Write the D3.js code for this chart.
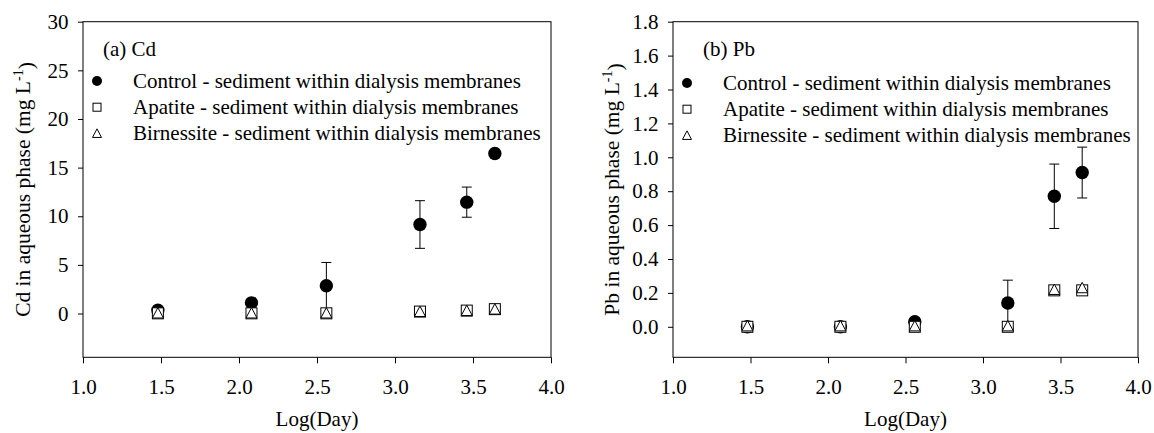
<!DOCTYPE html>
<html>
<head>
<meta charset="utf-8">
<script src="https://cdn.jsdelivr.net/npm/d3@7"></script>
<style>
body { margin: 0; background: #fff; }
text { font-family: "Liberation Serif", "Times New Roman", serif; fill: #000; }
</style>
</head>
<body>
<div id="canvas"></div>
<script>
// ----------------------------------------------------------
// DATA -----------------------------------------------------
// ----------------------------------------------------------

var log_day = [1.48, 2.08, 2.56, 3.16, 3.46, 3.64];

// (a) Cd, mg L-1
var cd_control = [0.35, 1.1, 2.85, 9.15, 11.45, 16.45];
var cd_control_err = [0.1, 0.2, 2.4, 2.45, 1.55, 0.2];
var cd_apatite = [0.02, 0.02, 0.02, 0.2, 0.3, 0.45];
var cd_birnessite = [0.05, 0.05, 0.05, 0.2, 0.3, 0.45];

// (b) Pb, mg L-1
var pb_control = [0.0, 0.0, 0.03, 0.14, 0.77, 0.91];
var pb_control_err = [0.0, 0.0, 0.005, 0.135, 0.19, 0.15];
var pb_apatite = [0.0, 0.0, 0.0, 0.0, 0.215, 0.215];
var pb_birnessite = [0.005, 0.005, 0.005, 0.005, 0.22, 0.23];

var tick_x = [1.0, 1.5, 2.0, 2.5, 3.0, 3.5, 4.0];
var tick_y_cd = [0, 5, 10, 15, 20, 25, 30];
var tick_y_pb = [0.0, 0.2, 0.4, 0.6, 0.8, 1.0, 1.2, 1.4, 1.6, 1.8];

var legend_terms = [
"Control - sediment within dialysis membranes",
"Apatite - sediment within dialysis membranes",
"Birnessite - sediment within dialysis membranes"
];


// ----------------------------------------------------------
// STRUCTURE ------------------------------------------------
// ----------------------------------------------------------

var font_size = "21px";

var container = d3.select("#canvas").append("svg")
.attr("width", 1154)
.attr("height", 433)
.style("background-color", "#fff");

var panels = [
{
title: "(a) Cd",
element: "Cd",
x_range: [83, 551],
y_domain: [-4.5, 30],
y_ticks: tick_y_cd,
y_format: d3.format("d"),
control: cd_control,
control_err: cd_control_err,
apatite: cd_apatite,
birnessite: cd_birnessite,
title_x: 103,
legend_sym_x: 97,
legend_text_x: 133,
legend_y: 81,
y_title_x: 22
},
{
title: "(b) Pb",
element: "Pb",
x_range: [673, 1138],
y_domain: [-0.18, 1.8],
y_ticks: tick_y_pb,
y_format: d3.format(".1f"),
control: pb_control,
control_err: pb_control_err,
apatite: pb_apatite,
birnessite: pb_birnessite,
title_x: 703,
legend_sym_x: 687,
legend_text_x: 723,
legend_y: 83,
y_title_x: 611
}
];

var top_px = 21.7;
var bottom_px = 357.3;

// ----------------------------------------------------------
// GFX ------------------------------------------------------
// ----------------------------------------------------------

function draw_square(g, cx, cy, s) {
g.append("rect")
.attr("x", cx - s / 2)
.attr("y", cy - s / 2)
.attr("width", s)
.attr("height", s)
.style("fill", "#fff")
.style("stroke", "#000")
.style("stroke-width", 1);
}

function draw_triangle(g, cx, cy, s) {
var h = s * 0.9;
g.append("path")
.attr("d", `M${cx},${cy - h / 2 - 0.5}L${cx + s / 2},${cy + h / 2}L${cx - s / 2},${cy + h / 2}Z`)
.style("fill", "#fff")
.style("stroke", "#000")
.style("stroke-width", 1);
}

panels.forEach(function (p) {

var g = container.append("g").attr("class", "panel");

// scales
var xScale = d3.scaleLinear().domain([1, 4]).range(p.x_range);
var yScale = d3.scaleLinear().domain(p.y_domain).range([bottom_px, top_px]);

// frame
g.append("rect")
.attr("x", p.x_range[0])
.attr("y", top_px)
.attr("width", p.x_range[1] - p.x_range[0])
.attr("height", bottom_px - top_px)
.style("fill", "none")
.style("stroke", "#000")
.style("stroke-width", 1);

// x axis
var x_axis = g.append("g")
.attr("transform", `translate(0, ${bottom_px})`)
.call(d3.axisBottom(xScale).tickValues(tick_x).tickFormat(d3.format(".1f")).tickSize(6).tickPadding(15.5).tickSizeOuter(0));
x_axis.select(".domain").remove();
x_axis.selectAll("text").style("font-size", font_size).style("font-family", "Liberation Serif");

// y axis
var y_axis = g.append("g")
.attr("transform", `translate(${p.x_range[0]}, 0)`)
.call(d3.axisLeft(yScale).tickValues(p.y_ticks).tickFormat(p.y_format).tickSize(5).tickPadding(9.5).tickSizeOuter(0));
y_axis.select(".domain").remove();
y_axis.selectAll("text").style("font-size", font_size).style("font-family", "Liberation Serif");

// axis titles
g.append("text")
.attr("x", (p.x_range[0] + p.x_range[1]) / 2)
.attr("y", 426)
.attr("text-anchor", "middle")
.style("font-size", font_size)
.text("Log(Day)");

var y_title = g.append("text")
.attr("transform", `translate(${p.y_title_x}, ${(top_px + bottom_px) / 2}) rotate(-90)`)
.attr("text-anchor", "middle")
.attr("dy", "0.35em")
.style("font-size", "21.5px");
y_title.append("tspan").text(p.element + " in aqueous phase (mg L");
y_title.append("tspan").attr("dy", "-0.45em").style("font-size", "14px").text("-1");
y_title.append("tspan").attr("dy", "0.45em").text(")");

// error bars
var cap = 5;
log_day.forEach(function (d, i) {
var err = p.control_err[i];
if (err <= 0) return;
var cx = xScale(d);
var y_hi = yScale(p.control[i] + err);
var y_lo = yScale(p.control[i] - err);
g.append("line").attr("x1", cx).attr("x2", cx).attr("y1", y_hi).attr("y2", y_lo)
.style("stroke", "#000").style("stroke-width", 1);
g.append("line").attr("x1", cx - cap).attr("x2", cx + cap).attr("y1", y_hi).attr("y2", y_hi)
.style("stroke", "#000").style("stroke-width", 1);
g.append("line").attr("x1", cx - cap).attr("x2", cx + cap).attr("y1", y_lo).attr("y2", y_lo)
.style("stroke", "#000").style("stroke-width", 1);
});

// control circles
log_day.forEach(function (d, i) {
g.append("circle")
.attr("cx", xScale(d))
.attr("cy", yScale(p.control[i]))
.attr("r", 6.7)
.style("fill", "#000");
});

// apatite squares
log_day.forEach(function (d, i) {
draw_square(g, xScale(d), yScale(p.apatite[i]), 11);
});

// birnessite triangles
log_day.forEach(function (d, i) {
draw_triangle(g, xScale(d), yScale(p.birnessite[i]), 11);
});

// panel title
g.append("text")
.attr("x", p.title_x)
.attr("y", 56)
.style("font-size", font_size)
.text(p.title);

// legend
legend_terms.forEach(function (term, k) {
var ly = p.legend_y + k * 26.2;
if (k === 0) {
g.append("circle").attr("cx", p.legend_sym_x).attr("cy", ly).attr("r", 5).style("fill", "#000");
} else if (k === 1) {
draw_square(g, p.legend_sym_x, ly, 8);
} else {
draw_triangle(g, p.legend_sym_x, ly, 9);
}
g.append("text")
.attr("x", p.legend_text_x)
.attr("y", ly + 7)
.style("font-size", font_size)
.text(term);
});

});
</script>
</body>
</html>
